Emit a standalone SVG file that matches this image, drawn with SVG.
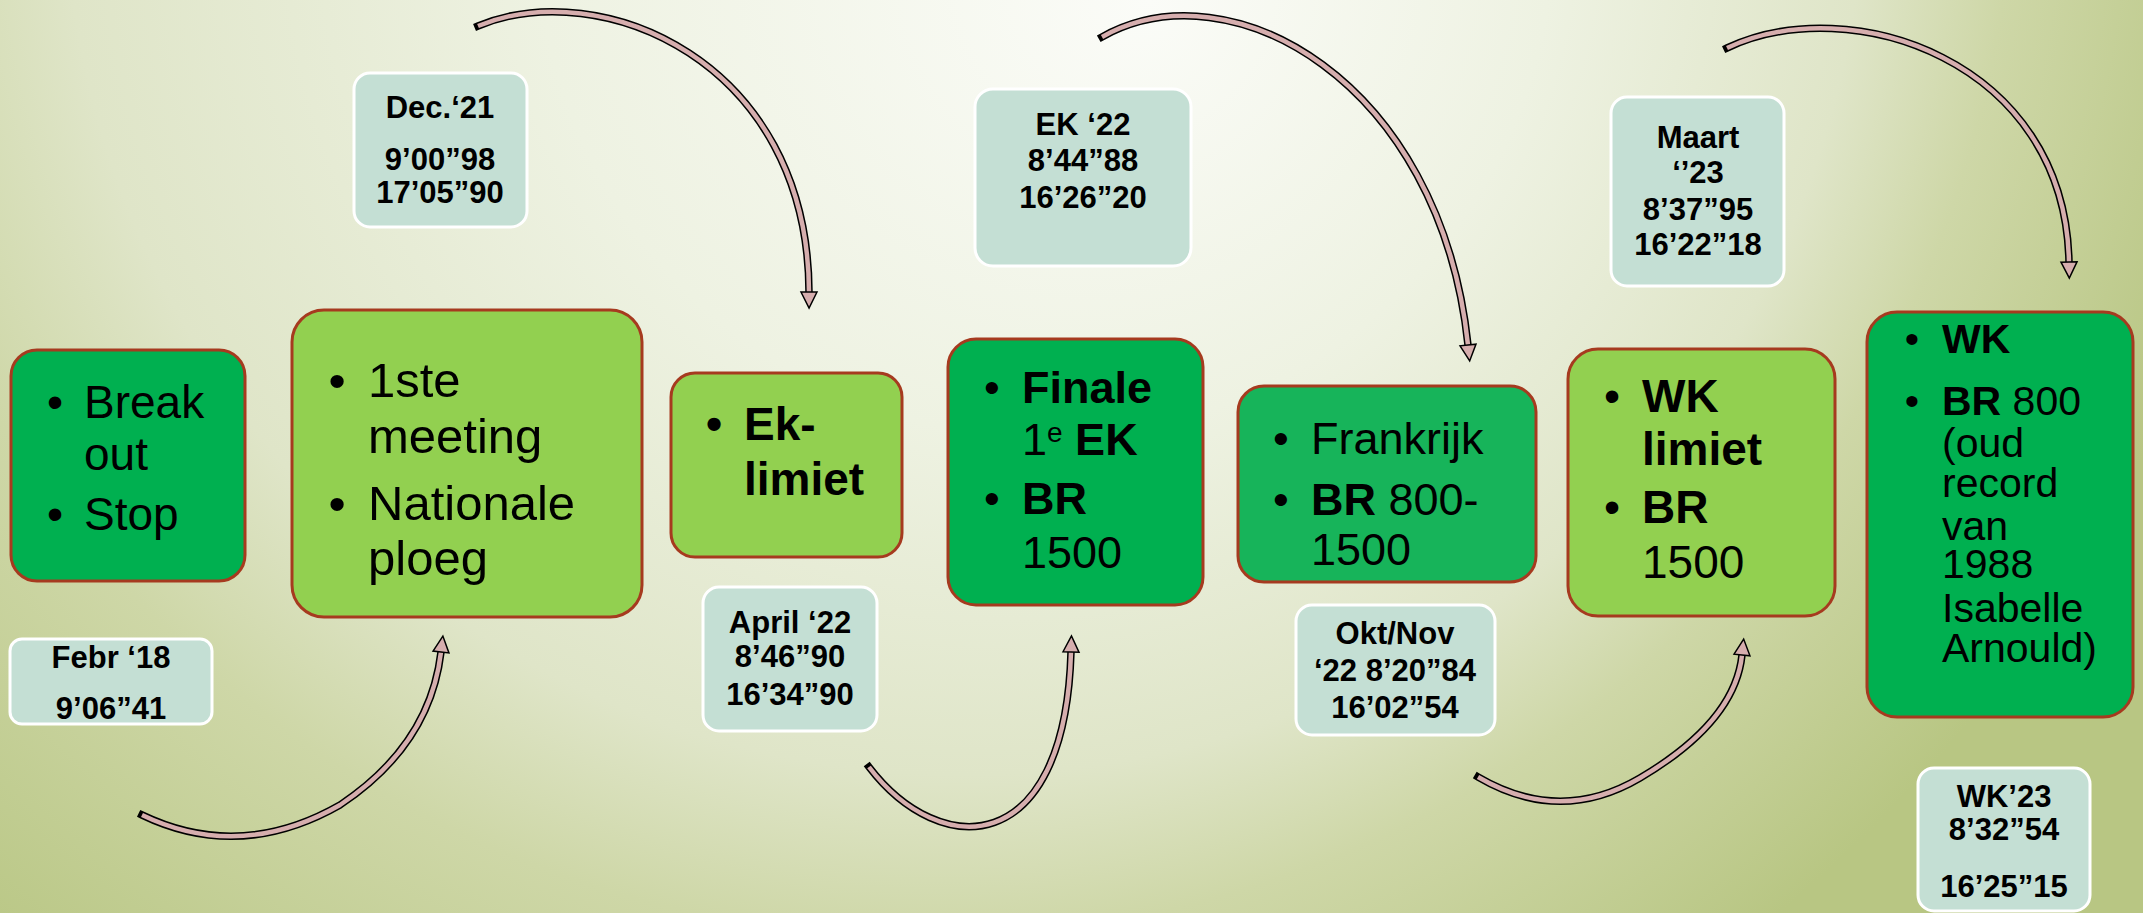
<svg xmlns="http://www.w3.org/2000/svg" width="2143" height="913" viewBox="0 0 2143 913">
  <defs>
    <radialGradient id="bg" gradientUnits="userSpaceOnUse" cx="850" cy="-200" r="1450" fx="1150" fy="0">
      <stop offset="0" stop-color="#fbfcf8"/>
      <stop offset="0.35" stop-color="#eef2e2"/>
      <stop offset="0.62" stop-color="#dfe5c8"/>
      <stop offset="0.75" stop-color="#ced7a7"/>
      <stop offset="1" stop-color="#b8c683"/>
    </radialGradient>
    <marker id="head" markerUnits="userSpaceOnUse" viewBox="-2 -10 20 20" refX="0" refY="0" markerWidth="20" markerHeight="20" orient="auto" overflow="visible">
      <path d="M0,-8 L16,0 L0,8 Z" fill="#d6aeae" stroke="#000" stroke-width="1.5" stroke-linejoin="miter"/>
    </marker>
    <style>
      .box { stroke: #a63a1f; stroke-width: 3; }
      .dark { fill: #00b050; }
      .mid { fill: #17b45a; }
      .light { fill: #92d050; }
      .tag { fill: #c4dfd4; stroke: #ffffff; stroke-width: 3; }
      .t { font-family: "Liberation Sans", Arial, sans-serif; fill: #000; }
      .b { font-weight: bold; }
      .lbl { font-family: "Liberation Sans", Arial, sans-serif; font-weight: bold; font-size: 31px; fill: #000; text-anchor: middle; }
      .dot { text-anchor: middle; }
      .edge-out { fill: none; stroke: #000; stroke-width: 7.5; stroke-linecap: square; }
      .edge-in { fill: none; stroke: #d6aeae; stroke-width: 4.5; stroke-linecap: butt; marker-end: url(#head); }
    </style>
  </defs>

  <rect x="0" y="0" width="2143" height="913" fill="url(#bg)"/>

  <!-- connectors: curved block arrows -->
  <g id="connectors">
    <path class="edge-out" d="M142 815 Q240 862 340 805 Q430 745 441 652"/>
    <path class="edge-in" d="M142 815 Q240 862 340 805 Q430 745 441 652"/>

    <path class="edge-out" d="M478 26 C600 -25 808 60 809 292"/>
    <path class="edge-in" d="M478 26 C600 -25 808 60 809 292"/>

    <path class="edge-out" d="M869 767 C940 860 1065 860 1071 652"/>
    <path class="edge-in" d="M869 767 C940 860 1065 860 1071 652"/>

    <path class="edge-out" d="M1102 37 C1230 -35 1440 80 1468 345"/>
    <path class="edge-in" d="M1102 37 C1230 -35 1440 80 1468 345"/>

    <path class="edge-out" d="M1478 777 Q1560 825 1640 778 Q1735 722 1742 655"/>
    <path class="edge-in" d="M1478 777 Q1560 825 1640 778 Q1735 722 1742 655"/>

    <path class="edge-out" d="M1727 48 C1850 -10 2065 60 2069 262"/>
    <path class="edge-in" d="M1727 48 C1850 -10 2065 60 2069 262"/>
  </g>

  <!-- milestone boxes -->
  <g id="node-breakout">
    <rect class="box dark" x="11" y="350" width="234" height="231" rx="26"/>
    <text class="t" font-size="46">
      <tspan class="dot" x="55" y="418">•</tspan><tspan x="84" y="418">Break</tspan>
      <tspan x="84" y="470">out</tspan>
      <tspan class="dot" x="55" y="530">•</tspan><tspan x="84" y="530">Stop</tspan>
    </text>
  </g>

  <g id="node-meeting">
    <rect class="box light" x="292" y="310" width="350" height="307" rx="32"/>
    <text class="t" font-size="49">
      <tspan class="dot" x="337" y="397">•</tspan><tspan x="368" y="397">1ste</tspan>
      <tspan x="368" y="453">meeting</tspan>
      <tspan class="dot" x="337" y="520">•</tspan><tspan x="368" y="520">Nationale</tspan>
      <tspan x="368" y="575">ploeg</tspan>
    </text>
  </g>

  <g id="node-eklimiet">
    <rect class="box light" x="671" y="373" width="231" height="184" rx="24"/>
    <text class="t b" font-size="46">
      <tspan class="dot" x="714" y="440">•</tspan><tspan x="744" y="440">Ek-</tspan>
      <tspan x="744" y="495">limiet</tspan>
    </text>
  </g>

  <g id="node-finale">
    <rect class="box dark" x="948" y="339" width="255" height="266" rx="28"/>
    <text class="t" font-size="45">
      <tspan class="dot" x="992" y="403">•</tspan><tspan class="b" x="1022" y="403">Finale</tspan>
      <tspan x="1022" y="455">1</tspan><tspan font-size="28" dy="-13">e</tspan><tspan class="b" dy="13"> EK</tspan>
      <tspan class="dot" x="992" y="514">•</tspan><tspan class="b" x="1022" y="514">BR</tspan>
      <tspan x="1022" y="568">1500</tspan>
    </text>
  </g>

  <g id="node-frankrijk">
    <rect class="box mid" x="1238" y="386" width="298" height="196" rx="26"/>
    <text class="t" font-size="45">
      <tspan class="dot" x="1281" y="454">•</tspan><tspan x="1311" y="454">Frankrijk</tspan>
      <tspan class="dot" x="1281" y="515">•</tspan><tspan class="b" x="1311" y="515">BR</tspan><tspan> 800-</tspan>
      <tspan x="1311" y="565">1500</tspan>
    </text>
  </g>

  <g id="node-wklimiet">
    <rect class="box light" x="1568" y="349" width="267" height="267" rx="30"/>
    <text class="t" font-size="46">
      <tspan class="dot" x="1612" y="412">•</tspan><tspan class="b" x="1642" y="412">WK</tspan>
      <tspan class="b" x="1642" y="465">limiet</tspan>
      <tspan class="dot" x="1612" y="523">•</tspan><tspan class="b" x="1642" y="523">BR</tspan>
      <tspan x="1642" y="578">1500</tspan>
    </text>
  </g>

  <g id="node-wk">
    <rect class="box dark" x="1867" y="312" width="266" height="405" rx="30"/>
    <text class="t" font-size="41">
      <tspan class="dot" x="1912" y="353">•</tspan><tspan class="b" x="1942" y="353">WK</tspan>
      <tspan class="dot" x="1912" y="415">•</tspan><tspan class="b" x="1942" y="415">BR</tspan><tspan> 800</tspan>
      <tspan x="1942" y="457">(oud</tspan>
      <tspan x="1942" y="497">record</tspan>
      <tspan x="1942" y="540">van</tspan>
      <tspan x="1942" y="578">1988</tspan>
      <tspan x="1942" y="622">Isabelle</tspan>
      <tspan x="1942" y="662">Arnould)</tspan>
    </text>
  </g>

  <!-- time labels -->
  <g id="tag-febr18">
    <rect class="tag" x="10" y="639" width="202" height="85" rx="12"/>
    <text class="lbl"><tspan x="111" y="668">Febr ‘18</tspan><tspan x="111" y="719">9’06”41</tspan></text>
  </g>

  <g id="tag-dec21">
    <rect class="tag" x="354" y="73" width="173" height="154" rx="16"/>
    <text class="lbl"><tspan x="440" y="118">Dec.‘21</tspan><tspan x="440" y="170">9’00”98</tspan><tspan x="440" y="203">17’05”90</tspan></text>
  </g>

  <g id="tag-ek22">
    <rect class="tag" x="975" y="89" width="216" height="177" rx="18"/>
    <text class="lbl"><tspan x="1083" y="135">EK  ‘22</tspan><tspan x="1083" y="171">8’44”88</tspan><tspan x="1083" y="208">16’26”20</tspan></text>
  </g>

  <g id="tag-april22">
    <rect class="tag" x="703" y="587" width="174" height="144" rx="16"/>
    <text class="lbl"><tspan x="790" y="633">April ‘22</tspan><tspan x="790" y="667">8’46”90</tspan><tspan x="790" y="705">16’34”90</tspan></text>
  </g>

  <g id="tag-maart23">
    <rect class="tag" x="1611" y="97" width="173" height="189" rx="16"/>
    <text class="lbl"><tspan x="1698" y="148">Maart</tspan><tspan x="1698" y="183">‘’23</tspan><tspan x="1698" y="220">8’37”95</tspan><tspan x="1698" y="255">16’22”18</tspan></text>
  </g>

  <g id="tag-oktnov22">
    <rect class="tag" x="1296" y="605" width="199" height="130" rx="16"/>
    <text class="lbl"><tspan x="1395" y="644">Okt/Nov</tspan><tspan x="1395" y="681">‘22 8’20”84</tspan><tspan x="1395" y="718">16’02”54</tspan></text>
  </g>

  <g id="tag-wk23">
    <rect class="tag" x="1918" y="768" width="172" height="143" rx="16"/>
    <text class="lbl"><tspan x="2004" y="807">WK’23</tspan><tspan x="2004" y="840">8’32”54</tspan><tspan x="2004" y="897">16’25”15</tspan></text>
  </g>
</svg>
